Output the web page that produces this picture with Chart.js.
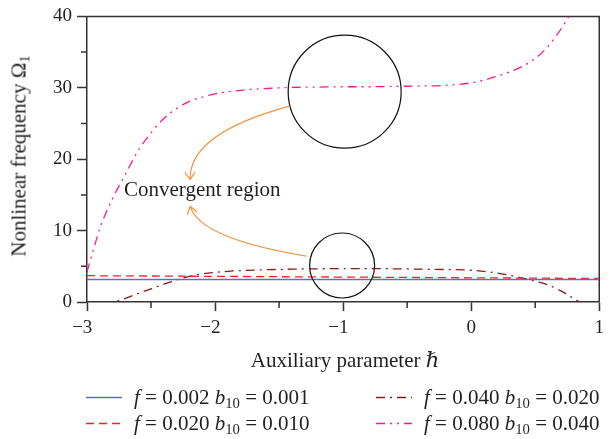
<!DOCTYPE html>
<html>
<head>
<meta charset="utf-8">
<script src="https://cdn.jsdelivr.net/npm/chart.js@4"></script>
<style>
  html, body { margin: 0; padding: 0; background: #fff; }
  #wrap { position: relative; width: 610px; height: 439px; font-family: "Liberation Serif", "DejaVu Serif", serif; color: #231f20; }
  #chart { position: absolute; left: 0; top: 0; }
  .txt { position: absolute; white-space: nowrap; line-height: 1; }
  .ytitle { left: 19px; top: 156px; font-size: 21px; transform: translate(-50%, -50%) rotate(-90deg); }
  .xtitle { left: 345px; top: 360px; font-size: 21px; transform: translate(-50%, -50%); }
  .note { left: 124px; top: 189px; font-size: 21px; transform: translateY(-50%); }
  .leg { position: absolute; display: flex; align-items: center; font-size: 21px; white-space: nowrap; line-height: 1; }
  .leg svg { margin-right: 12px; }
  sub { font-size: 0.7em; vertical-align: -0.3em; line-height: 0; }
</style>
</head>
<body>
<div id="wrap">
  <canvas id="chart" width="610" height="439"></canvas>
  <div class="txt ytitle">Nonlinear frequency &Omega;<sub>1</sub></div>
  <div class="txt xtitle">Auxiliary parameter <i>&#8463;</i></div>
  <div class="txt note">Convergent region</div>
  <div id="legend"></div>
</div>
<script>
// Auxiliary parameter h (x axis)
const hValues = [-3, -2.95, -2.9, -2.8, -2.7, -2.6, -2.5, -2.4, -2.3, -2.2, -2.1, -2.0,
  -1.8, -1.6, -1.4, -1.2, -1.0, -0.8, -0.6, -0.4, -0.2, 0, 0.2, 0.4, 0.5, 0.6, 0.7, 0.8, 0.9, 1.0];

// Nonlinear frequency for each (f, b10) pair
const omegaF002 = [3.15, 3.15, 3.15, 3.15, 3.15, 3.15, 3.15, 3.15, 3.15, 3.15, 3.15, 3.15,
  3.15, 3.15, 3.15, 3.15, 3.15, 3.15, 3.15, 3.15, 3.15, 3.15, 3.15, 3.15, 3.15, 3.15, 3.15, 3.15, 3.15, 3.15];
const omegaF020 = [3.68, 3.68, 3.67, 3.66, 3.66, 3.65, 3.64, 3.63, 3.62, 3.61, 3.60, 3.59,
  3.57, 3.55, 3.53, 3.51, 3.49, 3.47, 3.45, 3.43, 3.41, 3.39, 3.37, 3.35, 3.34, 3.33, 3.32, 3.31, 3.30, 3.29];
const omegaF040 = [-2.3, -1.8, -1.3, -0.15, 0.5, 1.2, 1.85, 2.5, 3.1, 3.6, 3.95, 4.15,
  4.4, 4.52, 4.6, 4.65, 4.67, 4.67, 4.65, 4.6, 4.55, 4.45, 4.05, 3.35, 2.9, 2.4, 1.55, 0.5, -0.6, -2.0];
const omegaF080 = [4.2, 7.3, 10.3, 14.5, 17.9, 21.2, 23.7, 25.7, 27.1, 28.1, 28.7, 29.15,
  29.65, 29.9, 30.05, 30.1, 30.15, 30.15, 30.2, 30.25, 30.35, 30.7, 31.6, 33.0, 34.1, 35.8, 38.2, 41.2, 45.0, 49.0];

const seriesLabels = ['f = 0.002 b10 = 0.001', 'f = 0.020 b10 = 0.010',
  'f = 0.040 b10 = 0.020', 'f = 0.080 b10 = 0.040'];
const xTicks = [-3, -2, -1, 0, 1];
const yTicks = [0, 10, 20, 30, 40];

const colors = ['#5873b8', '#ff2020', '#8b1a1a', '#ff1a8c'];
const dashes = [[], [8, 5], [9, 5, 2, 5], [9, 5, 2, 5, 2, 5]];
const allSeries = [omegaF002, omegaF020, omegaF040, omegaF080];

const toPoints = ys => hValues.map((h, i) => ({x: h, y: ys[i]}));
const fmt = v => (v < 0 ? '\u2212' + Math.abs(v) : String(v));
// minus hangs left of the tick, digit stays centred on it
const fmtX = v => (v < 0 ? '\u2212' + Math.abs(v) + '\u2002' : String(v));

// frame, minor ticks, circles and arrows
const decorPlugin = {
  id: 'decor',
  beforeDatasetsDraw(chart) {
    const {ctx, chartArea: a, scales: {x, y}} = chart;
    ctx.save();
    ctx.strokeStyle = '#333';
    ctx.lineWidth = 1.5;
    ctx.beginPath();
    ctx.moveTo(a.left, a.top);
    ctx.lineTo(a.right, a.top);
    ctx.lineTo(a.right, a.bottom);
    [-2.5, -1.5, -0.5, 0.5].forEach(v => {
      const px = x.getPixelForValue(v);
      ctx.moveTo(px, a.bottom);
      ctx.lineTo(px, a.bottom + 6);
    });
    [5, 15, 25, 35].forEach(v => {
      const py = y.getPixelForValue(v);
      ctx.moveTo(a.left, py);
      ctx.lineTo(a.left - 6, py);
    });
    ctx.stroke();
    ctx.restore();
  },
  afterDatasetsDraw(chart) {
    const {ctx, scales: {x, y}} = chart;
    const P = (vx, vy) => [x.getPixelForValue(vx), y.getPixelForValue(vy)];
    ctx.save();
    ctx.strokeStyle = '#111';
    ctx.lineWidth = 1.2;
    [[-0.988, 29.46, 56.5], [-1.008, 5.11, 32.5]].forEach(([cx, cy, r]) => {
      const [px, py] = P(cx, cy);
      ctx.beginPath();
      ctx.arc(px, py, r, 0, Math.PI * 2);
      ctx.stroke();
    });
    ctx.strokeStyle = '#f5923e';
    const arrow = (p0, c, p2) => {
      ctx.beginPath();
      ctx.moveTo(p0[0], p0[1]);
      ctx.quadraticCurveTo(c[0], c[1], p2[0], p2[1]);
      const ang = Math.atan2(p2[1] - c[1], p2[0] - c[0]);
      for (const s of [-1, 1]) {
        const a2 = ang + Math.PI - s * 0.6;
        ctx.moveTo(p2[0], p2[1]);
        ctx.lineTo(p2[0] + 9 * Math.cos(a2), p2[1] + 9 * Math.sin(a2));
      }
      ctx.stroke();
    };
    arrow(P(-1.419, 27.44), P(-2.209, 23.59), P(-2.194, 17.14));
    arrow(P(-1.287, 6.42), P(-2.124, 8.89), P(-2.194, 13.42));
    ctx.restore();
  }
};

new Chart(document.getElementById('chart'), {
  type: 'line',
  data: {
    datasets: allSeries.map((ys, i) => ({
      label: seriesLabels[i],
      data: toPoints(ys),
      borderColor: colors[i],
      borderWidth: 1.3,
      borderDash: dashes[i],
      pointRadius: 0,
      cubicInterpolationMode: 'monotone',
      fill: false
    }))
  },
  options: {
    responsive: false,
    animation: false,
    layout: {padding: {top: 11, right: 7, bottom: 0, left: 0}},
    plugins: {legend: {display: false}, tooltip: {enabled: false}},
    scales: {
      x: {
        type: 'linear',
        min: -3,
        max: 1,
        afterFit: s => { s.height = 137; },
        afterBuildTicks: s => { s.ticks = xTicks.map(v => ({value: v})); },
        grid: {drawOnChartArea: false, tickLength: 9, tickWidth: 1.5, tickColor: '#333'},
        border: {color: '#333', width: 1.5},
        ticks: {padding: 6, color: '#231f20', font: {family: 'Liberation Serif', size: 19},
          callback: v => fmtX(v), maxRotation: 0}
      },
      y: {
        min: 0,
        max: 40,
        afterFit: s => { s.width = 87; },
        afterBuildTicks: s => { s.ticks = yTicks.map(v => ({value: v})); },
        grid: {drawOnChartArea: false, tickLength: 10, tickWidth: 1.5, tickColor: '#333'},
        border: {color: '#333', width: 1.5},
        ticks: {padding: 5, color: '#231f20', font: {family: 'Liberation Serif', size: 19},
          callback: v => fmt(v)}
      }
    }
  },
  plugins: [decorPlugin]
});

// legend, two columns like the figure
const legendPos = [[86, 397], [86, 423], [376, 397], [376, 423]];
const legendHtml = seriesLabels.map((lab, i) => {
  const m = lab.match(/f = ([\d.]+) b10 = ([\d.]+)/);
  const [lx, ly] = legendPos[i];
  return '<div class="leg" style="left:' + lx + 'px;top:' + ly + 'px;transform:translateY(-50%)">' +
    '<svg width="36" height="6"><line x1="0" y1="3" x2="36" y2="3" stroke="' + colors[i] +
    '" stroke-width="1.4" stroke-dasharray="' + (dashes[i].join(' ') || 'none') + '"/></svg>' +
    '<span><i>f</i> = ' + m[1] + ' <i>b</i><sub>10</sub> = ' + m[2] + '</span></div>';
}).join('');
document.getElementById('legend').innerHTML = legendHtml;
</script>
</body>
</html>
